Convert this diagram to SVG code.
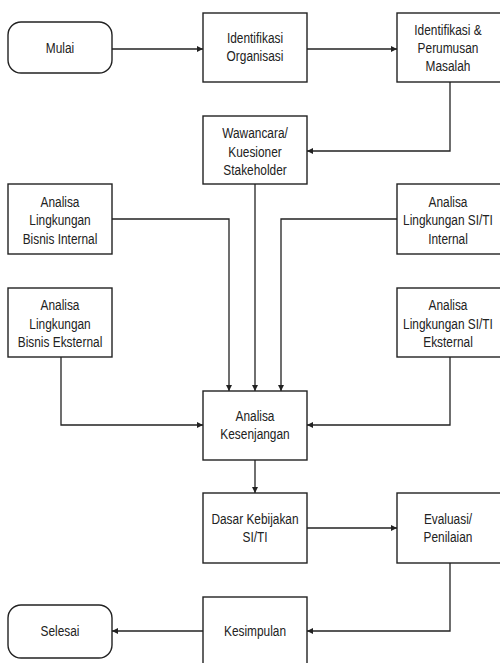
<svg xmlns="http://www.w3.org/2000/svg" width="500" height="663" viewBox="0 0 500 663">
  <style>
    .box { fill: #ffffff; stroke: #222222; stroke-width: 1.4; }
    .lbl { font-family: "Liberation Sans", Arial, sans-serif; font-size: 14.5px; fill: #222222; text-anchor: middle; }
    .conn { fill: none; stroke: #222222; stroke-width: 1.3; marker-end: url(#arrow); }
  </style>
  <defs>
    <marker id="arrow" markerUnits="userSpaceOnUse" markerWidth="6" markerHeight="6" refX="6" refY="3" orient="auto">
      <path d="M0,0 L6,3 L0,6 z" fill="#222222"/>
    </marker>
  </defs>
  <rect width="500" height="663" fill="#ffffff"/>

  <g id="connectors">
    <path class="conn" d="M112 49 H203"/>
    <path class="conn" d="M307 49 H397"/>
    <path class="conn" d="M450 82 V151 H307"/>
    <path class="conn" d="M112 219 H229 V391"/>
    <path class="conn" d="M255 184 V391"/>
    <path class="conn" d="M397 219 H281 V391"/>
    <path class="conn" d="M61 357 V425 H203"/>
    <path class="conn" d="M450 357 V425 H307"/>
    <path class="conn" d="M255 460 V493"/>
    <path class="conn" d="M307 528 H397"/>
    <path class="conn" d="M450 563 V631 H307"/>
    <path class="conn" d="M203 631 H112"/>
  </g>

  <!-- labels use a narrowed sans: each label group is shifted to the node centre and squeezed horizontally -->
  <g id="mulai">
    <rect class="box" x="8" y="22" width="104" height="51" rx="13"/>
    <g transform="translate(60 0) scale(0.82 1)">
      <text class="lbl" x="0" y="53">Mulai</text>
    </g>
  </g>
  <g id="identifikasi-organisasi">
    <rect class="box" x="203" y="13" width="104" height="69"/>
    <g transform="translate(255 0) scale(0.82 1)">
      <text class="lbl" x="0" y="43">Identifikasi</text>
      <text class="lbl" x="0" y="61.5">Organisasi</text>
    </g>
  </g>
  <g id="identifikasi-masalah">
    <rect class="box" x="397" y="13" width="106" height="69"/>
    <g transform="translate(448 0) scale(0.82 1)">
      <text class="lbl" x="0" y="35">Identifikasi &amp;</text>
      <text class="lbl" x="0" y="53">Perumusan</text>
      <text class="lbl" x="0" y="71">Masalah</text>
    </g>
  </g>
  <g id="wawancara">
    <rect class="box" x="203" y="116" width="104" height="68"/>
    <g transform="translate(255 0) scale(0.82 1)">
      <text class="lbl" x="0" y="138.5">Wawancara/</text>
      <text class="lbl" x="0" y="156.7">Kuesioner</text>
      <text class="lbl" x="0" y="175">Stakeholder</text>
    </g>
  </g>
  <g id="bisnis-internal">
    <rect class="box" x="8" y="184" width="104" height="70"/>
    <g transform="translate(60 0) scale(0.82 1)">
      <text class="lbl" x="0" y="207">Analisa</text>
      <text class="lbl" x="0" y="225.3">Lingkungan</text>
      <text class="lbl" x="0" y="243.6">Bisnis Internal</text>
    </g>
  </g>
  <g id="siti-internal">
    <rect class="box" x="397" y="184" width="106" height="70"/>
    <g transform="translate(448 0) scale(0.82 1)">
      <text class="lbl" x="0" y="207">Analisa</text>
      <text class="lbl" x="0" y="225.3">Lingkungan SI/TI</text>
      <text class="lbl" x="0" y="243.6">Internal</text>
    </g>
  </g>
  <g id="bisnis-eksternal">
    <rect class="box" x="8" y="288" width="104" height="69"/>
    <g transform="translate(60 0) scale(0.82 1)">
      <text class="lbl" x="0" y="310.5">Analisa</text>
      <text class="lbl" x="0" y="328.8">Lingkungan</text>
      <text class="lbl" x="0" y="347.1">Bisnis Eksternal</text>
    </g>
  </g>
  <g id="siti-eksternal">
    <rect class="box" x="397" y="288" width="106" height="69"/>
    <g transform="translate(448 0) scale(0.82 1)">
      <text class="lbl" x="0" y="310.5">Analisa</text>
      <text class="lbl" x="0" y="328.8">Lingkungan SI/TI</text>
      <text class="lbl" x="0" y="347.1">Eksternal</text>
    </g>
  </g>
  <g id="kesenjangan">
    <rect class="box" x="203" y="391" width="104" height="69"/>
    <g transform="translate(255 0) scale(0.82 1)">
      <text class="lbl" x="0" y="421">Analisa</text>
      <text class="lbl" x="0" y="439.5">Kesenjangan</text>
    </g>
  </g>
  <g id="dasar-kebijakan">
    <rect class="box" x="203" y="493" width="104" height="70"/>
    <g transform="translate(255 0) scale(0.82 1)">
      <text class="lbl" x="0" y="524">Dasar Kebijakan</text>
      <text class="lbl" x="0" y="542.5">SI/TI</text>
    </g>
  </g>
  <g id="evaluasi">
    <rect class="box" x="397" y="493" width="106" height="70"/>
    <g transform="translate(448 0) scale(0.82 1)">
      <text class="lbl" x="0" y="524">Evaluasi/</text>
      <text class="lbl" x="0" y="542.5">Penilaian</text>
    </g>
  </g>
  <g id="kesimpulan">
    <rect class="box" x="203" y="597" width="104" height="70"/>
    <g transform="translate(255 0) scale(0.82 1)">
      <text class="lbl" x="0" y="636.5">Kesimpulan</text>
    </g>
  </g>
  <g id="selesai">
    <rect class="box" x="8" y="605" width="104" height="53" rx="13"/>
    <g transform="translate(60 0) scale(0.82 1)">
      <text class="lbl" x="0" y="636.5">Selesai</text>
    </g>
  </g>
</svg>
